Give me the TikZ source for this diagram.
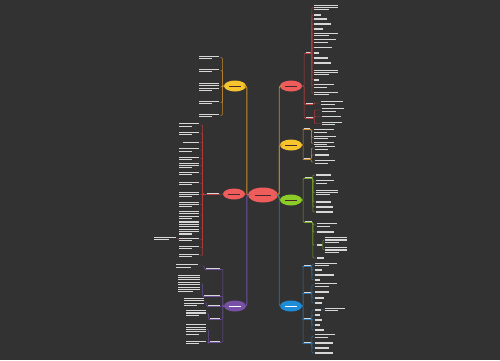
\documentclass[tikz,border=0pt]{standalone}
\usepackage{tikz}
\usetikzlibrary{shapes.geometric, calc}
\definecolor{bgdark}{RGB}{50,50,50}
\definecolor{redfill}{RGB}{238,92,92}
\definecolor{yellowfill}{RGB}{246,196,45}
\definecolor{greenfill}{RGB}{140,204,40}
\definecolor{bluefill}{RGB}{30,140,215}
\definecolor{purplefill}{RGB}{120,80,165}
\definecolor{orangeline}{RGB}{200,140,45}
\definecolor{redline}{RGB}{185,60,60}
\definecolor{greenline}{RGB}{120,165,40}
\definecolor{blueline}{RGB}{40,115,175}
\definecolor{purpleline}{RGB}{110,80,155}
\definecolor{txtgray}{RGB}{215,215,215}
\definecolor{txtdark}{RGB}{70,40,40}

% a block of unreadable text lines
\newcommand{\bars}[2]{\vbox{\baselineskip=2.4pt\lineskiplimit=-10pt%
\foreach \k in {1,...,#1}{\ifnum\k=#1\relax\hbox{\rule{0.65\dimexpr#2pt\relax}{1.1pt}}\else\hbox{\rule{#2pt}{1.1pt}}\fi}}}

\begin{document}
\begin{tikzpicture}[x=1pt, y=-1pt,
  root/.style={ellipse, fill=#1, minimum width=30pt, minimum height=15pt, inner sep=0pt, text=txtdark},
  topic/.style={ellipse, fill=#1, minimum width=22pt, minimum height=11pt, inner sep=0pt, text=txtdark},
  leaf/.style={inner sep=0.4pt, text=txtgray},
  sub/.style={inner sep=0.6pt, text=txtgray, append after command={(\tikzlastnode.south west) edge[draw=#1, line width=0.5pt] (\tikzlastnode.south east)}},
  trunk/.style={draw=#1, line width=0.9pt, rounded corners=2pt},
  twig/.style={draw=#1, line width=0.45pt, rounded corners=1pt}]

\fill[bgdark] (0,0) rectangle (500,360);
\useasboundingbox (0,0) rectangle (500,360);

% Topics

\node[root=redfill] (root) at (263,195) {\rule{16pt}{1pt}};
\node[topic=yellowfill] (lA) at (235,86) {\rule{12pt}{0.9pt}};
\node[topic=redfill] (lB) at (234,194) {\rule{12pt}{0.9pt}};
\node[topic=purplefill, text=white] (lC) at (235,306) {\rule{12pt}{0.9pt}};
\node[topic=redfill] (rA) at (291,86) {\rule{12pt}{0.9pt}};
\node[topic=yellowfill] (rB) at (291,145) {\rule{12pt}{0.9pt}};
\node[topic=greenfill] (rC) at (291,200) {\rule{12pt}{0.9pt}};
\node[topic=bluefill, text=white] (rD) at (291,306) {\rule{12pt}{0.9pt}};

\draw[trunk=orangeline] (root.west) -- ++(-1,0) |- (lA.east);
\draw[trunk=redline] (root.west) -- (lB.east);
\draw[trunk=purpleline] (root.west) -- ++(-1,0) |- (lC.east);
\draw[trunk=orangeline] (root.east) -- ++(1,0) |- (rA.west);
\draw[trunk=orangeline] (root.east) -- ++(1,0) |- (rB.west);
\draw[trunk=greenline] (root.east) -- (rC.west);
\draw[trunk=blueline] (root.east) -- ++(1,0) |- (rD.west);

% Right, red

\node[sub=redline] (rA1) at (308,52) {\rule{5pt}{0.9pt}};
\node[sub=redline] (rA2) at (309,103) {\rule{7pt}{0.9pt}};
\node[sub=redline] (rA3) at (309,117) {\rule{7pt}{0.9pt}};
\foreach \s in {rA1,rA2,rA3}
  \draw[twig=redline] (rA.east) -- ++(2,0) |- (\s.south west);
\foreach \y/\n/\w [count=\i] in {7.5/3/24, 15/1/12, 19/1/20, 24/1/26, 29/1/15, 34.5/2/24, 41/2/22, 47.5/1/28, 53/1/9, 58/1/22, 63/1/26, 72.5/3/24, 80/1/9, 86/2/20, 93.5/2/24}{
  \node[leaf, anchor=west] (rA1-\i) at (313,\y) {\bars{\n}{\w}};
  \draw[twig=redline] (rA1.south east) -- ++(0.5,0) |- (rA1-\i.west);
}
\node[leaf, anchor=west] (rA2-1) at (320,103) {\bars{2}{22}};
\draw[twig=redline] (rA2.south east) -- ++(1,0) |- (rA2-1.west);
\foreach \y/\n/\w [count=\i] in {110/2/22, 116.5/1/30, 123.5/2/20}{
  \node[leaf, anchor=west] (rA3-\i) at (321,\y) {\bars{\n}{\w}};
  \draw[twig=redline] (rA3.south east) -- ++(1,0) |- (rA3-\i.west);
}

% Right, yellow

\node[sub=orangeline] (rB1) at (307,128) {\rule{6pt}{0.9pt}};
\node[sub=orangeline] (rB2) at (307,158) {\rule{6pt}{0.9pt}};
\foreach \s in {rB1,rB2}
  \draw[twig=orangeline] (rB.east) -- ++(1,0) |- (\s.south west);
\foreach \y/\n/\w [count=\i] in {131/2/20, 137.5/2/22, 143.5/2/20}{
  \node[leaf, anchor=west] (rB1-\i) at (313,\y) {\bars{\n}{\w}};
  \draw[twig=orangeline] (rB1.south east) -- ++(0.5,0) |- (rB1-\i.west);
}
\foreach \y/\n/\w [count=\i] in {148/2/20, 155/1/22, 162/2/20}{
  \node[leaf, anchor=west] (rB2-\i) at (314,\y) {\bars{\n}{\w}};
  \draw[twig=orangeline] (rB2.south east) -- ++(0.5,0) |- (rB2-\i.west);
}

% Right, green

\node[sub=greenline] (rC1) at (308,177) {\rule{7pt}{0.9pt}};
\node[sub=greenline] (rC2) at (308,221) {\rule{7pt}{0.9pt}};
\foreach \s in {rC1,rC2}
  \draw[twig=greenline] (rC.east) -- ++(1,0) |- (\s.south west);
\foreach \y/\n/\w [count=\i] in {175/1/24, 182/2/18, 192.5/3/22, 202/1/24, 207/1/26, 212/1/26}{
  \node[leaf, anchor=west] (rC1-\i) at (315,\y) {\bars{\n}{\w}};
  \draw[twig=greenline] (rC1.south east) -- ++(0.5,0) |- (rC1-\i.west);
}
\foreach \y/\n/\w [count=\i] in {225/2/20, 232/1/26, 245/1/8, 258/1/12}{
  \node[leaf, anchor=west] (rC2-\i) at (316,\y) {\bars{\n}{\w}};
  \draw[twig=greenline] (rC2.south east) -- ++(0.5,0) |- (rC2-\i.west);
}
\foreach \y [count=\i] in {240,250}{
  \node[leaf, anchor=west] (rC3-\i) at (324,\y) {\bars{3}{22}};
  \draw[twig=greenline] (rC2-3.east) -- ++(0.5,0) |- (rC3-\i.west);
}

% Right, blue

\foreach \y [count=\j] in {265,292,318,342}{
  \node[sub=blueline] (rD\j) at (307,\y) {\rule{7pt}{0.9pt}};
  \draw[twig=blueline] (rD.east) -- ++(1,0) |- (rD\j.south west);
}
\foreach \y/\n/\w [count=\i] in {264.5/2/22, 270/1/12, 275/1/30, 280/1/9}{
  \node[leaf, anchor=west] (rD1-\i) at (314,\y) {\bars{\n}{\w}};
  \draw[twig=blueline] (rD1.south east) -- ++(0.5,0) |- (rD1-\i.west);
}
\foreach \y/\n/\w [count=\i] in {285/2/22, 292/1/22, 298/1/15, 303/1/12}{
  \node[leaf, anchor=west] (rD2-\i) at (314,\y) {\bars{\n}{\w}};
  \draw[twig=blueline] (rD2.south east) -- ++(0.5,0) |- (rD2-\i.west);
}
\foreach \y/\n/\w [count=\i] in {310/1/10, 315/1/9, 320/1/12, 325/1/9, 330/1/15}{
  \node[leaf, anchor=west] (rD3-\i) at (314,\y) {\bars{\n}{\w}};
  \draw[twig=blueline] (rD3.south east) -- ++(0.5,0) |- (rD3-\i.west);
}
\node[leaf, anchor=west] (rD3x) at (324,309.5) {\bars{2}{20}};
\draw[twig=blueline] (rD3-1.east) -- (rD3x.west);
\foreach \y/\n/\w [count=\i] in {336/2/20, 343/1/28, 348/1/22, 353/1/28}{
  \node[leaf, anchor=west] (rD4-\i) at (314,\y) {\bars{\n}{\w}};
  \draw[twig=blueline] (rD4.south east) -- ++(0.5,0) |- (rD4-\i.west);
}

% Left, yellow

\foreach \y/\n/\w [count=\i] in {57.5/2/20, 70.5/2/20, 87/4/20, 102.5/2/20, 115.5/2/20}{
  \node[leaf, anchor=east] (lA-\i) at (220,\y) {\bars{\n}{\w}};
  \draw[twig=orangeline] (lA.west) -- ++(-1.5,0) |- (lA-\i.east);
}

% Left, red

\node[sub=redline] (lB1) at (213,193) {\rule{12pt}{0.9pt}};
\draw[twig=redline] (lB.west) -- (lB1.south east);
\foreach \y/\n/\w [count=\i] in {125/2/20, 133.5/2/20, 142.5/1/26, 150/2/20, 158.5/2/20, 165.5/3/20, 173.5/2/20, 183.5/2/20, 194.5/3/20, 204.5/3/20, 215/4/20, 228/6/20, 239.5/2/20, 247.5/2/20, 255.5/2/20}{
  \node[leaf, anchor=east] (lB-\i) at (200,\y) {\bars{\n}{\w}};
  \draw[twig=redline] (lB1.south west) -- ++(-3.5,0) |- (lB-\i.east);
}
\node[leaf, anchor=east] (lBx) at (177,238.5) {\bars{2}{22}};
\draw[twig=redline] (lB-13.west) -- (lBx.east);

% Left, purple

\foreach \y/\w [count=\j] in {268/14, 295/16, 305/12, 318/10, 341/10}{
  \node[sub=purpleline, anchor=east] (lC\j) at (221,\y) {\rule{\w pt}{0.9pt}};
  \draw[twig=purpleline] (lC.west) -- ++(-1,0) |- (lC\j.south east);
}
\node[leaf, anchor=east] (lC1-1) at (199,266) {\bars{2}{22}};
\node[leaf, anchor=east] (lC2-1) at (201,283.5) {\bars{8}{22}};
\node[leaf, anchor=east] (lC3-1) at (205,302) {\bars{4}{20}};
\node[leaf, anchor=east] (lC4-1) at (207,313) {\bars{3}{20}};
\node[leaf, anchor=east] (lC5-1) at (207,329.5) {\bars{5}{20}};
\node[leaf, anchor=east] (lC5-2) at (207,342.5) {\bars{2}{20}};
\foreach \s/\t in {lC1/lC1-1, lC2/lC2-1, lC3/lC3-1, lC4/lC4-1, lC5/lC5-1, lC5/lC5-2}
  \draw[twig=purpleline] (\s.south west) -- ++(-1,0) |- (\t.east);

\end{tikzpicture}
\end{document}
